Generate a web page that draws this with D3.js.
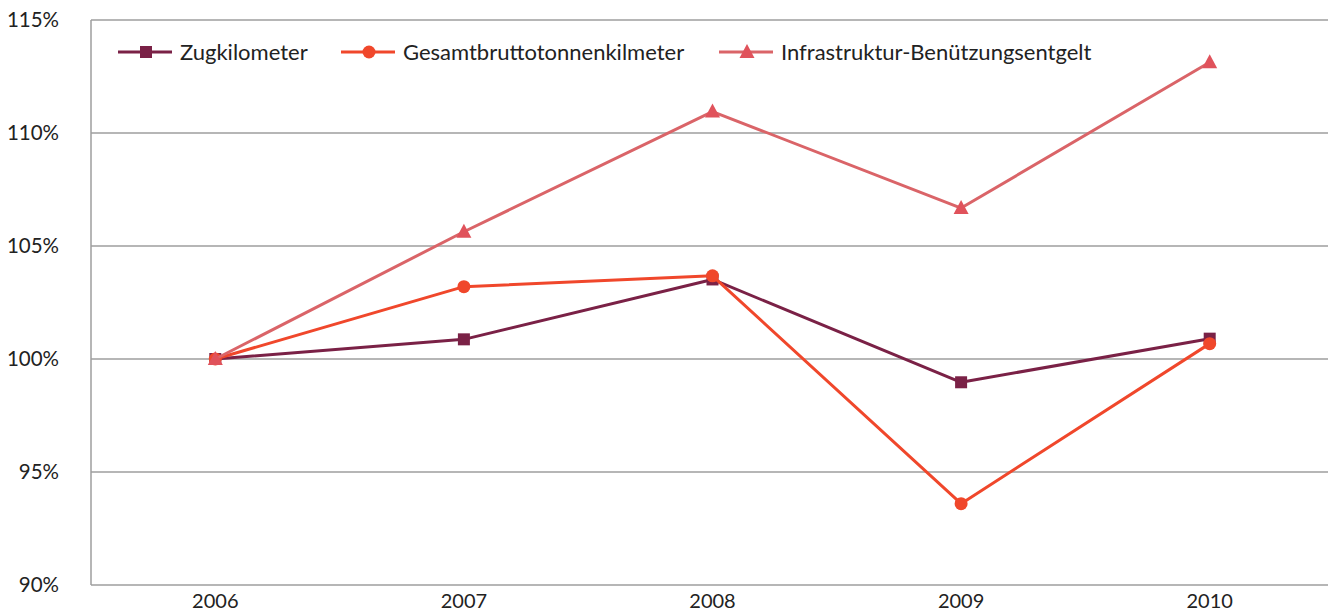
<!DOCTYPE html>
<html><head><meta charset="utf-8">
<script src="https://cdn.jsdelivr.net/npm/d3@7"></script>
<style>
html,body{margin:0;padding:0;background:#fff;}
svg{display:block;font-family:Lato,"Liberation Sans",sans-serif;}
</style></head>
<body>
<svg id="chart" width="1328" height="613"></svg>
<script>
const years = ["2006","2007","2008","2009","2010"];
const seriesNames = ["Zugkilometer","Gesamtbruttotonnenkilmeter","Infrastruktur-Benützungsentgelt"];
const zugkilometer = [100, 100.87, 103.52, 98.97, 100.9];
const gesamtbrutto = [100, 103.2, 103.68, 93.6, 100.68];
const infrastruktur = [100, 105.63, 110.95, 106.68, 113.13];
const yTicks = [90, 95, 100, 105, 110, 115];

const colors = ["#7a2146", "#f0472b", "#da6468"];
const markerColors = ["#7a2146", "#f0472b", "#e0525b"];
const shapes = ["square", "circle", "triangle"];
const data = [zugkilometer, gesamtbrutto, infrastruktur];

const svg = d3.select("#chart");
const mLeft = 91, mRight = 1334, mTop = 20, mBottom = 585;

const x = d3.scaleBand().domain(years).range([mLeft, mRight]).paddingInner(0).paddingOuter(0);
const cx = d => x(d) + x.bandwidth() / 2;
const y = d3.scaleLinear().domain([90, 115]).range([mBottom, mTop]);

// gridlines
svg.append("g").selectAll("line").data(yTicks).join("line")
  .attr("x1", mLeft).attr("x2", 1328)
  .attr("y1", d => y(d)).attr("y2", d => y(d))
  .attr("stroke", "#9e9e9e").attr("stroke-width", 1.5);

// y axis line
svg.append("line").attr("x1", mLeft).attr("x2", mLeft).attr("y1", mTop).attr("y2", mBottom)
  .attr("stroke", "#9e9e9e").attr("stroke-width", 1.5);

// y labels
svg.append("g").selectAll("text").data(yTicks).join("text")
  .attr("x", 59).attr("y", d => y(d)).attr("dy", "0.35em")
  .attr("text-anchor", "end").attr("font-size", 20.5).attr("fill", "#222")
  .text(d => d + "%");

// x labels
svg.append("g").selectAll("text").data(years).join("text")
  .attr("x", d => cx(d)).attr("y", 608)
  .attr("text-anchor", "middle").attr("font-size", 20).attr("fill", "#222")
  .text(d => d);

function marker(g, shape, color, px, py) {
  if (shape === "square") {
    g.append("rect").attr("x", px - 6).attr("y", py - 6).attr("width", 12).attr("height", 12).attr("fill", color);
  } else if (shape === "circle") {
    g.append("circle").attr("cx", px).attr("cy", py).attr("r", 6.5).attr("fill", color);
  } else {
    g.append("path").attr("d", `M${px},${py-8}L${px+7.5},${py+6}L${px-7.5},${py+6}Z`).attr("fill", color);
  }
}

const line = d3.line().x((d, i) => cx(years[i])).y(d => y(d));
data.forEach((vals, si) => {
  const g = svg.append("g");
  g.append("path").datum(vals).attr("d", line).attr("fill", "none")
    .attr("stroke", colors[si]).attr("stroke-width", 3).attr("stroke-linejoin", "round");
  vals.forEach((v, i) => marker(g, shapes[si], markerColors[si], cx(years[i]), y(v)));
});

// legend
const legendX = [118, 341, 719];
const legendY = 52;
seriesNames.forEach((name, si) => {
  const g = svg.append("g");
  const lx = legendX[si];
  g.append("line").attr("x1", lx).attr("x2", lx + 54).attr("y1", legendY).attr("y2", legendY)
    .attr("stroke", colors[si]).attr("stroke-width", 3);
  marker(g, shapes[si], markerColors[si], lx + 28, legendY);
  g.append("text").attr("x", lx + 62).attr("y", legendY).attr("dy", "0.35em")
    .attr("font-size", 22).attr("fill", "#222").text(name);
});
</script>
</body></html>
